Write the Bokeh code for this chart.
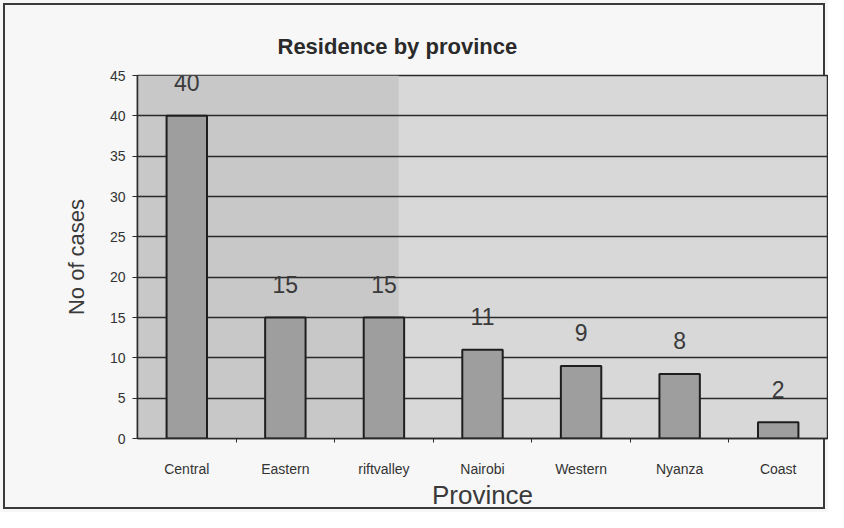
from bokeh.plotting import figure
from bokeh.models import ColumnDataSource, FixedTicker, Range1d, BoxAnnotation
from bokeh.core.properties import value
from bokeh.embed import file_html
from bokeh.resources import INLINE

categories = ["Central", "Eastern", "riftvalley", "Nairobi", "Western", "Nyanza", "Coast"]
cases = [40, 15, 15, 11, 9, 8, 2]
y_ticks = [0, 5, 10, 15, 20, 25, 30, 35, 40, 45]

n = len(categories)
xs = [i + 0.5 for i in range(n)]

FONT = "Liberation Sans"

p = figure(
    width=828, height=512,
    frame_width=690, frame_height=363,
    min_border_left=137, min_border_right=1,
    min_border_top=75, min_border_bottom=74,
    x_range=Range1d(0, n), y_range=Range1d(0, 45),
    output_backend="svg", toolbar_location=None,
    title="Residence by province",
)

# transparent canvas border so the host element's outline (chart border) shows
p.border_fill_color = "#f7f7f7"
p.border_fill_alpha = 0.0
p.styles = {"background-color": "#f7f7f7",
            "outline": "2px solid #3a3a3a", "outline-offset": "-5px"}

p.background_fill_color = "#d8d8d8"
p.outline_line_color = "#2a2a2a"
p.outline_line_width = 1.5

# darker scanned region on the left
p.add_layout(BoxAnnotation(left=0, right=2.65, fill_color="#c8c8c8", fill_alpha=1.0,
                           line_color=None, level="image"))

p.title.text_font = FONT
p.title.text_font_size = "22px"
p.title.text_font_style = "bold"
p.title.text_color = "#2a2a2a"
p.title.align = "left"
p.title.offset = 140
p.title.standoff = 33

src = ColumnDataSource(dict(x=xs, top=cases, label=[str(v) for v in cases]))
p.vbar(x="x", top="top", width=0.41, bottom=0, source=src,
       fill_color="#9e9e9e", line_color="#1e1e1e", line_width=2)
p.text(x="x", y="top", text="label", source=src,
       text_font=value(FONT), text_font_size="23px", text_color="#3a3a3a",
       text_align="center", text_baseline="middle", y_offset=-33)

# grid
p.xgrid.visible = False
p.ygrid.ticker = FixedTicker(ticks=y_ticks)
p.ygrid.grid_line_color = "#2a2a2a"
p.ygrid.grid_line_width = 1.3

# y axis
ya = p.yaxis[0]
ya.ticker = FixedTicker(ticks=y_ticks)
ya.axis_label = "No of cases"
ya.axis_label_text_font = FONT
ya.axis_label_text_font_size = "22px"
ya.axis_label_text_font_style = "normal"
ya.axis_label_text_color = "#3a3a3a"
ya.axis_label_standoff = 18
ya.major_label_text_font = FONT
ya.major_label_text_font_size = "14px"
ya.major_label_text_color = "#333333"
ya.major_label_standoff = 7
ya.major_tick_out = 5
ya.major_tick_in = 0
ya.minor_tick_out = 0
ya.minor_tick_in = 0
ya.axis_line_color = "#2a2a2a"
ya.axis_line_width = 1.5
ya.major_tick_line_color = "#2a2a2a"

# x axis
xa = p.xaxis[0]
xa.ticker = FixedTicker(ticks=xs, minor_ticks=list(range(1, n)))
xa.major_label_overrides = {x: c for x, c in zip(xs, categories)}
xa.axis_label = "Province"
xa.axis_label_text_font = FONT
xa.axis_label_text_font_size = "26px"
xa.axis_label_text_font_style = "normal"
xa.axis_label_text_color = "#3a3a3a"
xa.axis_label_standoff = 0
xa.major_label_text_font = FONT
xa.major_label_text_font_size = "14px"
xa.major_label_text_color = "#333333"
xa.major_label_standoff = 18
xa.major_tick_out = 0
xa.major_tick_in = 0
xa.minor_tick_out = 4
xa.minor_tick_in = 0
xa.minor_tick_line_color = "#2a2a2a"
xa.axis_line_color = "#2a2a2a"
xa.axis_line_width = 1.5

open("out.html", "w").write(file_html(p, INLINE))
